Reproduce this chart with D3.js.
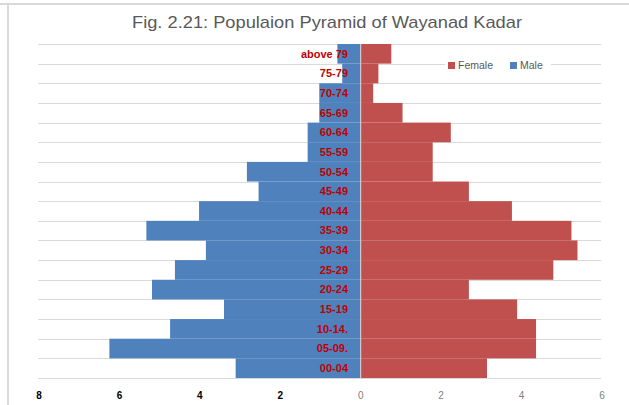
<!DOCTYPE html>
<html>
<head>
<meta charset="utf-8">
<script src="https://d3js.org/d3.v7.min.js"></script>
<style>
  html, body { margin: 0; padding: 0; background: #fff; }
  svg { display: block; }
  .title { font-family: "Liberation Sans", Arial, sans-serif; font-size: 17px; fill: #595959; }
  .cat { font-family: "Liberation Sans", Arial, sans-serif; font-size: 11px; font-weight: bold; fill: #c00000; }
  .tick-l { font-family: "Liberation Sans", Arial, sans-serif; font-size: 10px; fill: #000; font-weight: bold; }
  .tick-r { font-family: "Liberation Sans", Arial, sans-serif; font-size: 10px; fill: #7f7f7f; }
  .legend text { font-family: "Liberation Sans", Arial, sans-serif; font-size: 10.5px; fill: #595959; }
</style>
</head>
<body>
<svg width="629" height="405"></svg>
<script>
// age groups, top to bottom
var ageGroups = ["above 79", "75-79", "70-74", "65-69", "60-64", "55-59", "50-54", "45-49",
  "40-44", "35-39", "30-34", "25-29", "20-24", "15-19", "10-14.", "05-09.", "00-04"];
var male   = [0.58, 0.46, 1.03, 1.03, 1.32, 1.32, 2.83, 2.54, 4.02, 5.33, 3.85, 4.62, 5.19, 3.40, 4.74, 6.25, 3.11];
var female = [0.76, 0.44, 0.31, 1.04, 2.24, 1.79, 1.79, 2.69, 3.76, 5.24, 5.39, 4.79, 2.69, 3.89, 4.36, 4.36, 3.14];
var tickValues = [-8, -6, -4, -2, 0, 2, 4, 6];

var svg = d3.select("svg");

// chart frame
svg.append("line").attr("x1", 0).attr("x2", 629).attr("y1", 4).attr("y2", 4)
  .attr("stroke", "#d9d9d9").attr("stroke-width", 2);
svg.append("line").attr("x1", 8).attr("x2", 8).attr("y1", 4).attr("y2", 405)
  .attr("stroke", "#d9d9d9").attr("stroke-width", 2);

svg.append("text").attr("class", "title")
  .attr("x", 327).attr("y", 28).attr("text-anchor", "middle")
  .attr("textLength", 390).attr("lengthAdjust", "spacingAndGlyphs")
  .text("Fig. 2.21: Populaion Pyramid of Wayanad Kadar");

var x = d3.scaleLinear().domain([-8, 6]).range([39, 602]);
var y = d3.scaleBand().domain(ageGroups).range([44, 378]).padding(0);

// gridlines at band edges
var edges = ageGroups.map(function(d) { return y(d); }).concat([378]);
svg.append("g").selectAll("line").data(edges).enter().append("line")
  .attr("x1", 38).attr("x2", 601)
  .attr("y1", function(d) { return Math.round(d) + 0.5; })
  .attr("y2", function(d) { return Math.round(d) + 0.5; })
  .attr("stroke", "#d9d9d9").attr("stroke-width", 1);

// male bars (left)
svg.append("g").selectAll("rect").data(male).enter().append("rect")
  .attr("x", function(d) { return x(-d); })
  .attr("y", function(d, i) { return y(ageGroups[i]); })
  .attr("width", function(d) { return x(0) - x(-d); })
  .attr("height", y.bandwidth())
  .attr("fill", "#4f81bd");

// female bars (right)
svg.append("g").selectAll("rect").data(female).enter().append("rect")
  .attr("x", x(0))
  .attr("y", function(d, i) { return y(ageGroups[i]); })
  .attr("width", function(d) { return x(d) - x(0); })
  .attr("height", y.bandwidth())
  .attr("fill", "#c0504d");

// zero line
svg.append("line").attr("x1", x(0)).attr("x2", x(0)).attr("y1", 44).attr("y2", 378)
  .attr("stroke", "#d9d9d9").attr("stroke-width", 1);

// category labels
svg.append("g").selectAll("text").data(ageGroups).enter().append("text")
  .attr("class", "cat")
  .attr("x", 348)
  .attr("y", function(d) { return y(d) + y.bandwidth() / 2; })
  .attr("dy", "0.35em")
  .attr("text-anchor", "end")
  .text(function(d) { return d; });

// x axis labels
svg.append("g").selectAll("text").data(tickValues).enter().append("text")
  .attr("class", function(d) { return d < 0 ? "tick-l" : "tick-r"; })
  .attr("x", function(d) { return x(d); })
  .attr("y", 399)
  .attr("text-anchor", "middle")
  .text(function(d) { return Math.abs(d); });

// legend
var legend = svg.append("g").attr("class", "legend");
legend.append("rect").attr("x", 445).attr("y", 57).attr("width", 106).attr("height", 16).attr("fill", "#fff");
var items = [{name: "Female", color: "#c0504d", x: 448}, {name: "Male", color: "#4f81bd", x: 510}];
items.forEach(function(it) {
  legend.append("rect").attr("x", it.x).attr("y", 62).attr("width", 7).attr("height", 7).attr("fill", it.color);
  legend.append("text").attr("x", it.x + 10).attr("y", 69).text(it.name);
});
</script>
</body>
</html>
